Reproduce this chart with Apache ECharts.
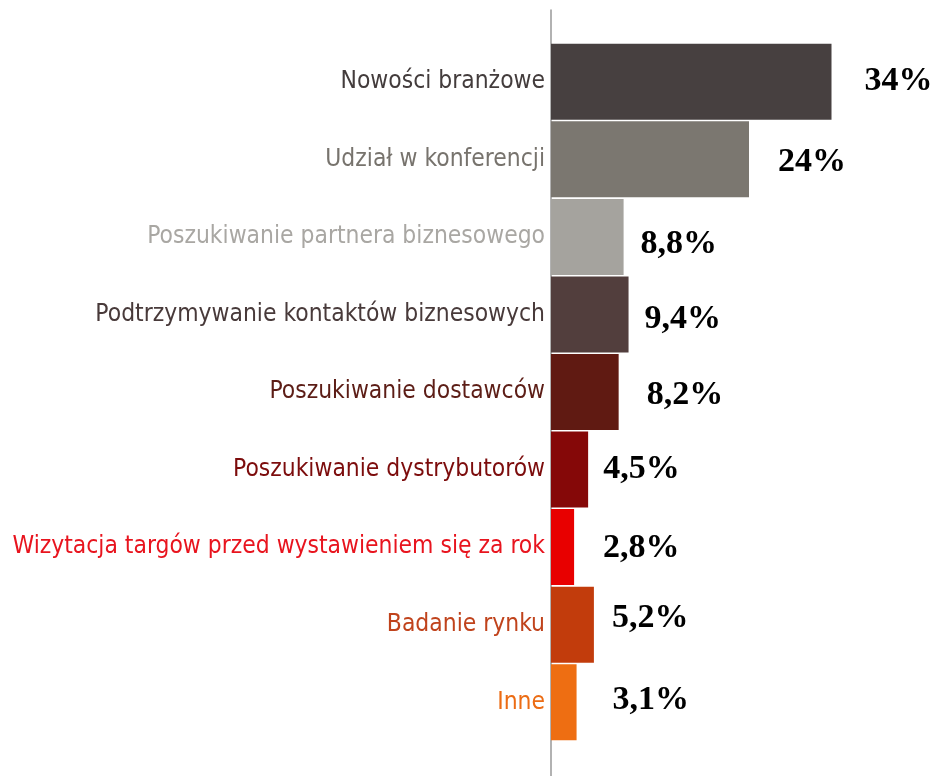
<!DOCTYPE html>
<html>
<head>
<meta charset="utf-8">
<title>Powody odwiedzin targów</title>
<script src="https://cdn.jsdelivr.net/npm/echarts@6/dist/echarts.min.js"></script>
<style>
  html, body { margin: 0; padding: 0; background: #fff; }
  #chart { width: 940px; height: 776px; }
</style>
</head>
<body>
<div id="chart"></div>
<script>
// categories, top to bottom
const categories = [
  "Nowości branżowe",
  "Udział w konferencji",
  "Poszukiwanie partnera biznesowego",
  "Podtrzymywanie kontaktów biznesowych",
  "Poszukiwanie dostawców",
  "Poszukiwanie dystrybutorów",
  "Wizytacja targów przed wystawieniem się za rok",
  "Badanie rynku",
  "Inne"
];
// share of answers, %
const shares = [34, 24, 8.8, 9.4, 8.2, 4.5, 2.8, 5.2, 3.1];
const shareLabels = ["34%", "24%", "8,8%", "9,4%", "8,2%", "4,5%", "2,8%", "5,2%", "3,1%"];

const barColors = ["#474040", "#7b7770", "#a5a39e", "#523e3d", "#601a12",
                   "#850808", "#e80000", "#c23c0c", "#ee6e12"];
const textColors = ["#433c3c", "#77736d", "#a9a7a3", "#483a3a", "#5c1d16",
                    "#7c0c0c", "#e8141e", "#c0431c", "#ec6c14"];
// gap between bar end and its value label (the original is not uniform)
const labelGap = [33, 29, 17, 16, 28, 15, 29, 18, 36];
const labelShift = [-1, 3, 7, 5, 3, 0, 1, -6, -2];

const chart = echarts.init(document.getElementById("chart"));

const items = shares.map((v, i) => ({
  value: v,
  itemStyle: { color: barColors[i] },
  label: { distance: labelGap[i], offset: [0, labelShift[i]] }
}));

chart.setOption({
  animation: false,
  backgroundColor: "#fff",
  grid: [
    { left: 551, top: 43, bottom: 35, width: 330 },
    { left: 551, top: 10, bottom: 0, width: 330 }
  ],
  xAxis: [
    { gridIndex: 0, type: "value", min: 0, max: 40, show: false },
    { gridIndex: 1, type: "value", min: 0, max: 40, show: false }
  ],
  yAxis: [
    {
      gridIndex: 0,
      type: "category",
      inverse: true,
      data: categories,
      axisLine: { show: false },
      axisTick: { show: false },
      axisLabel: {
        margin: 6,
        fontFamily: "Liberation Sans Narrow, DejaVu Sans Condensed, sans-serif",
        fontSize: 24.4,
        color: (val, idx) => textColors[idx]
      }
    },
    {
      gridIndex: 1,
      type: "value",
      axisLine: { show: true, lineStyle: { color: "#999", width: 1.5 } },
      axisTick: { show: false },
      axisLabel: { show: false },
      splitLine: { show: false }
    }
  ],
  series: [
    {
      type: "bar",
      xAxisIndex: 0,
      yAxisIndex: 0,
      data: items,
      barCategoryGap: "2%",
      label: {
        show: true,
        position: "right",
        fontFamily: "Liberation Serif, Times New Roman, serif",
        fontWeight: "bold",
        fontSize: 34,
        color: "#000",
        formatter: (p) => shareLabels[p.dataIndex]
      }
    }
  ]
});
</script>
</body>
</html>
